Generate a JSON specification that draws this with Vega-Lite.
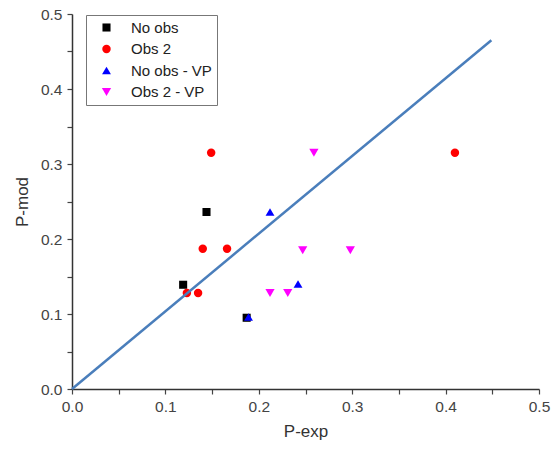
{
  "$schema": "https://vega.github.io/schema/vega-lite/v6.json",
  "width": 467,
  "height": 375,
  "autosize": {"type": "none"},
  "padding": {"left": 72, "top": 14, "right": 13, "bottom": 63},
  "background": "white",
  "config": {"view": {"stroke": null}, "font": "Liberation Sans"},
  "datasets": {
    "pts": [
      {"series": "No obs", "pexp": 0.119, "pmod": 0.139},
      {"series": "No obs", "pexp": 0.144, "pmod": 0.236},
      {"series": "No obs", "pexp": 0.187, "pmod": 0.095},
      {"series": "Obs 2", "pexp": 0.149, "pmod": 0.315},
      {"series": "Obs 2", "pexp": 0.140, "pmod": 0.187},
      {"series": "Obs 2", "pexp": 0.166, "pmod": 0.187},
      {"series": "Obs 2", "pexp": 0.123, "pmod": 0.128},
      {"series": "Obs 2", "pexp": 0.135, "pmod": 0.128},
      {"series": "Obs 2", "pexp": 0.410, "pmod": 0.315},
      {"series": "No obs - VP", "pexp": 0.212, "pmod": 0.236},
      {"series": "No obs - VP", "pexp": 0.242, "pmod": 0.140},
      {"series": "No obs - VP", "pexp": 0.189, "pmod": 0.096},
      {"series": "Obs 2 - VP", "pexp": 0.259, "pmod": 0.315},
      {"series": "Obs 2 - VP", "pexp": 0.247, "pmod": 0.185},
      {"series": "Obs 2 - VP", "pexp": 0.298, "pmod": 0.185},
      {"series": "Obs 2 - VP", "pexp": 0.212, "pmod": 0.128},
      {"series": "Obs 2 - VP", "pexp": 0.231, "pmod": 0.128}
    ],
    "ref": [
      {"pexp": 0, "pmod": 0},
      {"pexp": 0.449, "pmod": 0.465}
    ]
  },
  "encoding": {
    "x": {
      "field": "pexp", "type": "quantitative",
      "scale": {"domain": [0, 0.5], "nice": false, "zero": false},
      "axis": {
        "title": "P-exp", "values": [0, 0.05, 0.1, 0.15, 0.2, 0.25, 0.3, 0.35, 0.4, 0.45, 0.5],
        "labelExpr": "(round(datum.value*100) % 10 == 0) ? format(datum.value, '.1f') : ''",
        "grid": false, "tickSize": 5, "tickColor": "#444", "tickWidth": 1.2,
        "domainColor": "#333", "domainWidth": 1.5,
        "labelFontSize": 15.5, "labelColor": "#444", "labelPadding": 5, "labelFlush": false, "labelOverlap": false,
        "titleFontSize": 17, "titleFontWeight": "normal", "titleColor": "#333", "titlePadding": 9
      }
    },
    "y": {
      "field": "pmod", "type": "quantitative",
      "scale": {"domain": [0, 0.5], "nice": false, "zero": false},
      "axis": {
        "title": "P-mod", "values": [0, 0.05, 0.1, 0.15, 0.2, 0.25, 0.3, 0.35, 0.4, 0.45, 0.5],
        "labelExpr": "(round(datum.value*100) % 10 == 0) ? format(datum.value, '.1f') : ''",
        "grid": false, "tickSize": 5, "tickColor": "#444", "tickWidth": 1.2,
        "domainColor": "#333", "domainWidth": 1.5,
        "labelFontSize": 15.5, "labelColor": "#444", "labelPadding": 5, "labelFlush": false, "labelOverlap": false,
        "titleFontSize": 17, "titleFontWeight": "normal", "titleColor": "#333", "titlePadding": 9
      }
    }
  },
  "layer": [
    {
      "data": {"name": "pts"},
      "mark": {"type": "point", "filled": true, "opacity": 1},
      "encoding": {
        "color": {
          "field": "series", "type": "nominal",
          "scale": {"domain": ["No obs", "Obs 2", "No obs - VP", "Obs 2 - VP"], "range": ["#000000", "#ff0000", "#0000ff", "#ff00ff"]},
          "legend": {
            "title": null, "orient": "none", "legendX": 14, "legendY": 1,
            "strokeColor": "#777", "fillColor": "white", "padding": 5,
            "labelFontSize": 15, "labelColor": "#222", "rowPadding": 5.5,
            "symbolOffset": 8, "labelOffset": 17
          }
        },
        "shape": {
          "field": "series", "type": "nominal",
          "scale": {"domain": ["No obs", "Obs 2", "No obs - VP", "Obs 2 - VP"], "range": ["square", "circle", "triangle-up", "triangle-down"]},
          "legend": {
            "title": null, "orient": "none", "legendX": 14, "legendY": 1,
            "strokeColor": "#777", "fillColor": "white", "padding": 5,
            "labelFontSize": 15, "labelColor": "#222", "rowPadding": 5.5,
            "symbolOffset": 8, "labelOffset": 17
          }
        },
        "size": {
          "field": "series", "type": "nominal",
          "scale": {"domain": ["No obs", "Obs 2", "No obs - VP", "Obs 2 - VP"], "range": [65, 85, 150, 150]},
          "legend": {
            "title": null, "orient": "none", "legendX": 14, "legendY": 1,
            "strokeColor": "#777", "fillColor": "white", "padding": 5,
            "labelFontSize": 15, "labelColor": "#222", "rowPadding": 5.5,
            "symbolOffset": 8, "labelOffset": 17
          }
        }
      }
    },
    {
      "data": {"name": "ref"},
      "mark": {"type": "line", "color": "#4a7ebb", "strokeWidth": 2.5},
      "encoding": {}
    }
  ]
}
